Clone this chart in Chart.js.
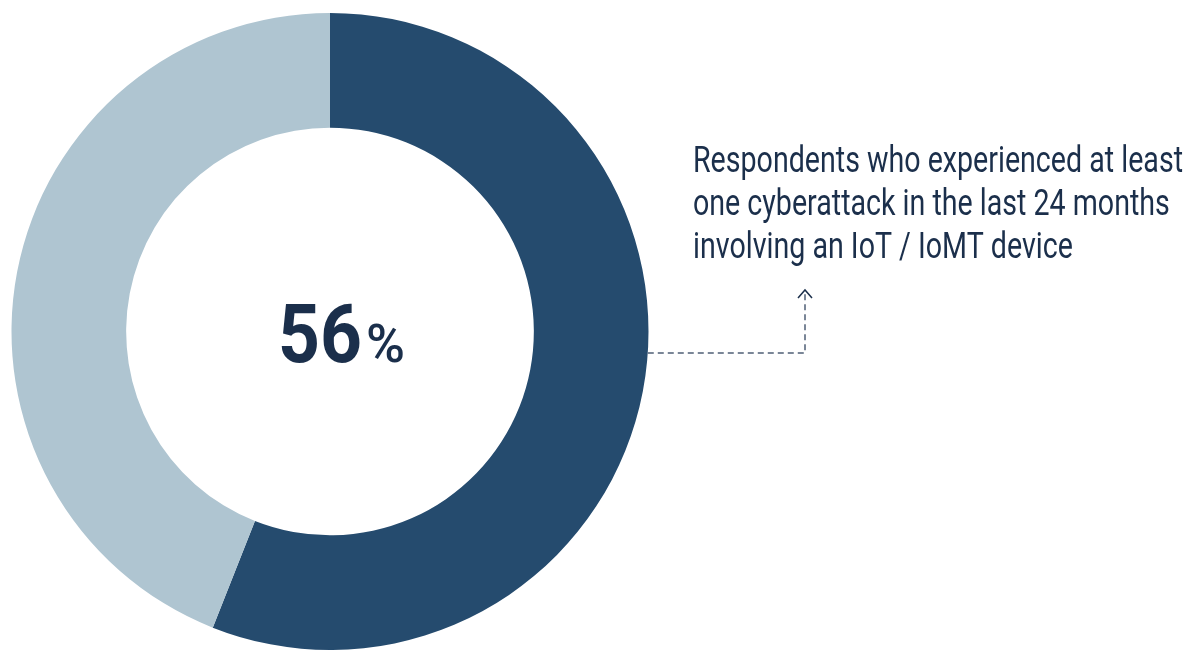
<!DOCTYPE html>
<html>
<head>
<meta charset="utf-8">
<script src="https://cdn.jsdelivr.net/npm/chart.js@4/dist/chart.umd.min.js"></script>
<style>
  html, body { margin: 0; padding: 0; background: #fff; overflow: hidden; }
  #wrap { width: 1199px; height: 650px; position: relative; }
</style>
</head>
<body>
<div id="wrap"><canvas id="donut"></canvas></div>
<script>
// share of respondents, in percent
const labels = ['At least one IoT / IoMT cyberattack', 'None'];
const values = [56, 44];
const colors = ['#254b6e', '#afc5d1'];

const caption = [
    'Respondents who experienced at least',
    'one cyberattack in the last 24 months',
    'involving an IoT / IoMT device'
];

const ink = '#1b2f4b';

// big number in the hole, callout text and dashed leader line
const overlay = {
    id: 'overlay',
    afterDraw(chart) {
        const ctx = chart.ctx;
        const arc = chart.getDatasetMeta(0).data[0];
        const cx = arc.x, cy = arc.y, r = arc.outerRadius;

        ctx.save();
        ctx.fillStyle = ink;
        ctx.textBaseline = 'alphabetic';
        ctx.textAlign = 'left';

        // 56%
        const num = String(values[0]);
        const x0 = cx - 52;
        ctx.font = 'bold 82px Roboto';
        const nw = ctx.measureText(num).width;
        ctx.save();
        ctx.translate(x0, 362);
        ctx.scale(84 / nw, 1);
        ctx.fillText(num, 0, 0);
        ctx.restore();
        ctx.font = '500 54px Roboto';
        const pw = ctx.measureText('%').width;
        ctx.save();
        ctx.translate(x0 + 88, 362);
        ctx.scale(39 / pw, 1);
        ctx.fillText('%', 0, 0);
        ctx.restore();

        // caption, squeezed to a condensed look
        ctx.font = '37px Roboto';
        const sx = 490 / ctx.measureText(caption[0]).width;
        caption.forEach((line, i) => {
            ctx.save();
            ctx.translate(693, 172 + i * 43);
            ctx.scale(sx, 1);
            ctx.fillText(line, 0, 0);
            ctx.restore();
        });

        // leader line
        const ly = 353, lx = 805;
        const startX = cx + Math.sqrt(r * r - (ly - cy) * (ly - cy));
        ctx.strokeStyle = '#4f5f75';
        ctx.lineWidth = 1.5;
        ctx.setLineDash([6, 4]);
        ctx.beginPath();
        ctx.moveTo(startX, ly);
        ctx.lineTo(lx, ly);
        ctx.lineTo(lx, 292);
        ctx.stroke();
        ctx.setLineDash([]);
        ctx.strokeStyle = ink;
        ctx.beginPath();
        ctx.moveTo(lx - 7, 298);
        ctx.lineTo(lx, 290);
        ctx.lineTo(lx + 7, 298);
        ctx.stroke();
        ctx.restore();
    }
};

const config = {
    type: 'doughnut',
    data: {
        labels: labels,
        datasets: [{
            data: values,
            backgroundColor: colors,
            borderWidth: 0
        }]
    },
    options: {
        responsive: true,
        maintainAspectRatio: false,
        animation: false,
        cutout: '64%',
        layout: {
            padding: { top: 13, bottom: 0, left: 11, right: 550 }
        },
        plugins: {
            legend: { display: false },
            tooltip: { enabled: false }
        }
    },
    plugins: [overlay]
};

const donutChart = new Chart(document.getElementById('donut'), config);
</script>
</body>
</html>
